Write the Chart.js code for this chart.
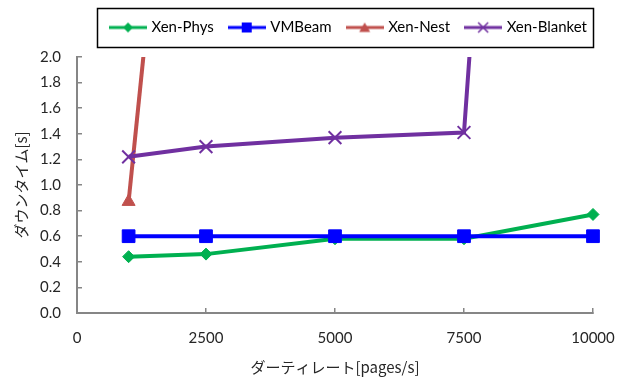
<!DOCTYPE html>
<html>
<head>
<meta charset="utf-8">
<script src="https://cdn.jsdelivr.net/npm/chart.js@4.4.1/dist/chart.umd.min.js"></script>
<style>
  html, body { margin: 0; padding: 0; background: #ffffff; }
  #wrap { width: 626px; height: 378px; }
</style>
</head>
<body>
<div id="wrap"><canvas id="chart" width="626" height="378"></canvas></div>
<script>
// Dirty page rate (pages/s) on the x axis, downtime (s) on the y axis.
const dirtyRates = [1000, 2500, 5000, 7500, 10000];
const xTickValues = [0, 2500, 5000, 7500, 10000];
const seriesNames = ['Xen-Phys', 'VMBeam', 'Xen-Nest', 'Xen-Blanket'];
const xenPhysDowntime = [0.44, 0.46, 0.58, 0.58, 0.77];
const vmBeamDowntime = [0.60, 0.60, 0.60, 0.60, 0.60];
const xenNestDowntime = [0.87, 6.8];
const xenBlanketDowntime = [1.22, 1.30, 1.37, 1.41, 15.5];
const yMax = 2.0;
const yStep = 0.2;

const AXIS_GREY = '#868686';
const TEXT = '#262626';
const LATIN = 'Lato, "Open Sans", sans-serif';
const JP = '"Noto Sans CJK JP", "Noto Sans", sans-serif';

function points(values) {
  return values.map((v, i) => ({ x: dirtyRates[i], y: v }));
}

// Small line-with-marker swatch used as the legend symbol.
function legendSwatch(color, shape) {
  const c = document.createElement('canvas');
  c.width = 38; c.height = 14;
  const g = c.getContext('2d');
  const cx = 19, cy = 7;
  g.strokeStyle = color; g.fillStyle = color;
  g.lineWidth = 3;
  g.beginPath(); g.moveTo(0, cy); g.lineTo(38, cy); g.stroke();
  g.beginPath();
  if (shape === 'diamond') {
    g.moveTo(cx, cy - 5); g.lineTo(cx + 5, cy); g.lineTo(cx, cy + 5); g.lineTo(cx - 5, cy); g.closePath(); g.fill();
  } else if (shape === 'square') {
    g.fillRect(cx - 5, cy - 5, 10, 10);
  } else if (shape === 'triangle') {
    g.moveTo(cx, cy - 5); g.lineTo(cx + 5.5, cy + 4.5); g.lineTo(cx - 5.5, cy + 4.5); g.closePath(); g.fill();
  } else if (shape === 'x') {
    g.lineWidth = 1.5;
    g.moveTo(cx - 5, cy - 5); g.lineTo(cx + 5, cy + 5);
    g.moveTo(cx + 5, cy - 5); g.lineTo(cx - 5, cy + 5);
    g.stroke();
  }
  return c;
}

const seriesStyles = [
  { color: '#00B050', pointStyle: 'rectRot', radius: 6, shape: 'diamond', border: 1 },
  { color: '#0000FF', pointStyle: 'rect', radius: 9, shape: 'square', border: 1 },
  { color: '#C0504D', pointStyle: 'triangle', radius: 7.5, shape: 'triangle', border: 1 },
  { color: '#7030A0', pointStyle: 'crossRot', radius: 9, shape: 'x', border: 2 }
];
const seriesValues = [xenPhysDowntime, vmBeamDowntime, xenNestDowntime, xenBlanketDowntime];

const datasets = seriesNames.map((name, i) => {
  const s = seriesStyles[i];
  return {
    label: name,
    data: points(seriesValues[i]),
    borderColor: s.color,
    backgroundColor: s.color,
    borderWidth: 4,
    pointStyle: s.pointStyle,
    pointRadius: s.radius,
    pointHoverRadius: s.radius,
    pointBorderWidth: s.border,
    pointBackgroundColor: s.color,
    pointBorderColor: s.color,
    tension: 0,
    fill: false,
    order: seriesNames.length - i,
    clip: { left: 14, right: 14, top: 0, bottom: 14 },
    swatch: legendSwatch(s.color, s.shape)
  };
});

// Shifts the legend row and frames it with a thin black box.
const legendFrame = {
  id: 'legendFrame',
  afterLayout(chart) {
    const lg = chart.legend;
    lg.left += 53; lg.right += 53;
  },
  afterDraw(chart) {
    const boxes = chart.legend.legendHitBoxes;
    if (!boxes || !boxes.length) return;
    const first = boxes[0], last = boxes[boxes.length - 1];
    const ctx = chart.ctx;
    const l = first.left - 15, r = last.left + last.width + 6;
    const t = first.top - 12, b = first.top + first.height + 12;
    ctx.save();
    ctx.strokeStyle = '#000000';
    ctx.lineWidth = 1.5;
    ctx.strokeRect(Math.round(l) + 0.5, Math.round(t) + 0.5, Math.round(r - l), Math.round(b - t));
    ctx.restore();
  }
};

new Chart(document.getElementById('chart'), {
  type: 'line',
  data: { datasets },
  plugins: [legendFrame],
  options: {
    responsive: false,
    animation: false,
    devicePixelRatio: 1,
    layout: { padding: { top: 3, right: 33, left: 0, bottom: 0 } },
    plugins: {
      tooltip: { enabled: false },
      title: { display: false },
      // empty block that keeps a gap between the legend and the plot
      subtitle: {
        display: true, text: '', weight: 500, padding: 0,
        font: { size: 12, lineHeight: 1 }
      },
      legend: {
        display: true,
        position: 'top',
        align: 'center',
        labels: {
          usePointStyle: true,
          pointStyleWidth: 32,
          padding: 17,
          color: '#000000',
          font: { family: LATIN, size: 15 },
          generateLabels(chart) {
            return chart.data.datasets.map((ds, i) => ({
              text: ds.label,
              pointStyle: ds.swatch,
              fillStyle: ds.borderColor,
              strokeStyle: ds.borderColor,
              lineWidth: 0,
              fontColor: '#000000',
              hidden: false,
              datasetIndex: i
            }));
          }
        }
      }
    },
    scales: {
      x: {
        type: 'linear',
        min: 0,
        max: 10000,
        afterBuildTicks(scale) { scale.ticks = xTickValues.map(v => ({ value: v })); },
        afterFit(scale) { scale.height = 65; },
        border: { display: true, color: AXIS_GREY, width: 2 },
        grid: { display: true, drawOnChartArea: false, drawTicks: true, tickLength: -5, color: AXIS_GREY, lineWidth: 1.5 },
        ticks: {
          padding: 7.5,
          color: TEXT,
          font: { family: LATIN, size: 15, lineHeight: 3 },
          maxRotation: 0,
          callback: v => String(v)
        },
        title: {
          display: true,
          text: 'ダーティレート[pages/s]',
          color: TEXT,
          font: { family: JP, size: 15 },
          padding: { top: 0, bottom: 2 }
        }
      },
      y: {
        type: 'linear',
        min: 0,
        max: yMax,
        afterFit(scale) { scale.width = 77; },
        border: { display: true, color: AXIS_GREY, width: 2 },
        grid: { display: true, drawOnChartArea: false, drawTicks: true, tickLength: -5, color: AXIS_GREY, lineWidth: 1.5 },
        ticks: {
          stepSize: yStep,
          padding: 21,
          color: TEXT,
          font: { family: LATIN, size: 15 },
          callback: v => Number(v).toFixed(1)
        },
        title: {
          display: true,
          text: 'ダウンタイム[s]',
          color: TEXT,
          font: { family: JP, size: 15 },
          padding: { top: 12, bottom: 0 }
        }
      }
    }
  }
});
</script>
</body>
</html>
